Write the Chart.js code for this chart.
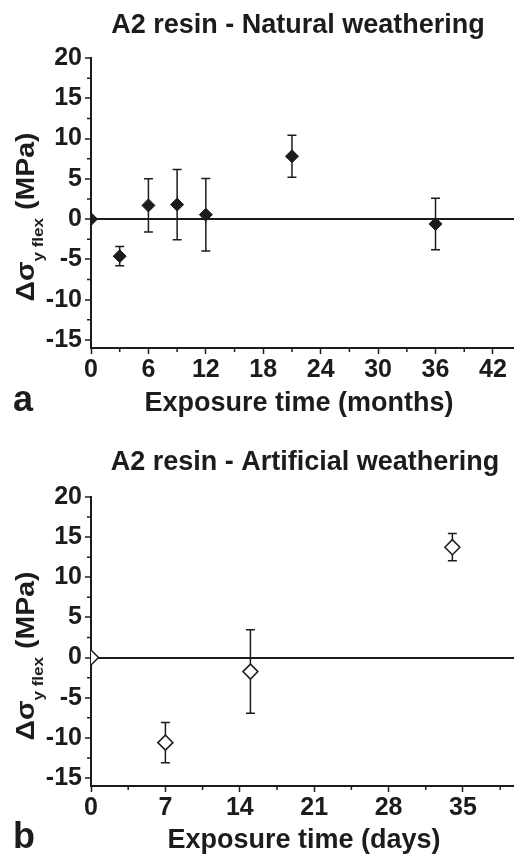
<!DOCTYPE html>
<html>
<head>
<meta charset="utf-8">
<script src="https://cdn.jsdelivr.net/npm/chart.js@4/dist/chart.umd.min.js"></script>
<style>
  body { margin: 0; background: #fff; }
  canvas { position: absolute; left: 0; }
</style>
</head>
<body>
<canvas id="chartA" width="514" height="420" style="top:0px"></canvas>
<canvas id="chartB" width="514" height="435" style="top:420px"></canvas>
<script>
// ---- panel a : natural weathering (months)
const monthsA = [0, 3, 6, 9, 12, 21, 36];
const deltaA  = [0, -4.6, 1.7, 1.8, 0.55, 7.8, -0.6];
const errA    = [0, 1.2, 3.3, 4.35, 4.5, 2.6, 3.2];
const xTicksA = [0, 6, 12, 18, 24, 30, 36, 42];
const xMinorA = [3, 9, 15, 21, 27, 33, 39];

// ---- panel b : artificial weathering (days)
const daysB   = [0, 7, 15, 34];
const deltaB  = [0, -10.6, -1.75, 13.75];
const errB    = [0, 2.5, 5.2, 1.7];
const xTicksB = [0, 7, 14, 21, 28, 35];
const xMinorB = [3.5, 10.5, 17.5, 24.5, 31.5, 38.5];

// ---- shared y axis
const yTicks = [-15, -10, -5, 0, 5, 10, 15, 20];
const yMinor = [-12.5, -7.5, -2.5, 2.5, 7.5, 12.5, 17.5];

const FONT = '"Liberation Sans", Arial, sans-serif';
const ink = '#1c1c1c';

//////// error bars, minor ticks and the panel texts
const decor = {
  id: 'decor',
  beforeDatasetsDraw(chart, args, o) {
    const ctx = chart.ctx, xs = chart.scales.x, ys = chart.scales.y;
    ctx.save();
    ctx.strokeStyle = ink;
    ctx.lineWidth = 1.5;
    chart.data.datasets[0].data.forEach((p, i) => {
      const e = o.err[i];
      if (!e) return;
      const px = xs.getPixelForValue(p.x);
      const t = ys.getPixelForValue(p.y + e);
      const b = ys.getPixelForValue(p.y - e);
      ctx.beginPath();
      ctx.moveTo(px, t); ctx.lineTo(px, b);
      ctx.moveTo(px - 4.5, t); ctx.lineTo(px + 4.5, t);
      ctx.moveTo(px - 4.5, b); ctx.lineTo(px + 4.5, b);
      ctx.stroke();
    });
    ctx.restore();
  },
  afterDraw(chart, args, o) {
    const ctx = chart.ctx, xs = chart.scales.x, ys = chart.scales.y;
    const area = chart.chartArea;
    ctx.save();
    ctx.strokeStyle = ink;
    ctx.lineWidth = 1.5;
    ctx.beginPath();
    o.minorX.forEach(v => {
      const px = xs.getPixelForValue(v);
      ctx.moveTo(px, area.bottom); ctx.lineTo(px, area.bottom + 4);
    });
    yMinor.forEach(v => {
      const py = ys.getPixelForValue(v);
      ctx.moveTo(area.left, py); ctx.lineTo(area.left - 4, py);
    });
    ctx.stroke();

    ctx.fillStyle = ink;
    ctx.textAlign = 'center';
    ctx.textBaseline = 'alphabetic';
    ctx.font = 'bold 27px ' + FONT;
    ctx.fillText(o.title, o.titleX, o.titleY);
    ctx.fillText(o.xTitle, o.xTitleX, o.xTitleY);
    ctx.textAlign = 'left';
    ctx.font = 'bold 36px ' + FONT;
    ctx.fillText(o.letter, 13, o.xTitleY);

    // rotated y title with subscript, stretched to the length seen in the figure
    ctx.translate(34, area.top + 159);
    ctx.rotate(-Math.PI / 2);
    const big = 'bold 25px ' + FONT, small = 'bold 15px ' + FONT;
    ctx.font = big;
    const w1 = ctx.measureText('\u0394\u03c3').width;
    const w3 = ctx.measureText(' (MPa)').width;
    ctx.font = small;
    const w2 = ctx.measureText('y flex').width;
    const total = w1 + w2 + w3;
    ctx.scale(169 / total, 1);
    let x0 = -total / 2;
    ctx.font = big;  ctx.fillText('\u0394\u03c3', x0, 0); x0 += w1;
    ctx.font = small; ctx.fillText('y flex', x0, 9); x0 += w2;
    ctx.font = big;  ctx.fillText(' (MPa)', x0, 0);
    ctx.restore();
  }
};

function makeChart(id, xs, ys, errs, xTicks, xMinor, xMax, filled, txt, pad, xH) {
  return new Chart(document.getElementById(id), {
    type: 'scatter',
    data: {
      datasets: [{
        data: xs.map((v, i) => ({ x: v, y: ys[i] })),
        pointStyle: 'rectRot',
        pointRadius: filled ? 6.5 : 7.5,
        pointHoverRadius: filled ? 6.5 : 7.5,
        backgroundColor: filled ? ink : '#fff',
        borderColor: ink,
        borderWidth: filled ? 1 : 1.5
      }]
    },
    options: {
      responsive: false,
      animation: false,
      events: [],
      layout: { autoPadding: false, padding: { top: pad, left: 0, right: 0, bottom: 0 } },
      plugins: {
        legend: { display: false },
        tooltip: { enabled: false },
        decor: Object.assign({ err: errs, minorX: xMinor }, txt)
      },
      scales: {
        x: {
          type: 'linear', min: 0, max: xMax,
          afterBuildTicks: s => { s.ticks = xTicks.map(v => ({ value: v })); },
          afterFit: s => { s.height = xH; s.paddingRight = 0; s.paddingLeft = 0; },
          border: { display: true, color: ink, width: 2 },
          grid: { drawOnChartArea: false, tickLength: 6, tickColor: ink, tickWidth: 1.5 },
          ticks: { color: ink, font: { family: FONT, size: 25, weight: 'bold' }, padding: 1, maxRotation: 0 }
        },
        y: {
          type: 'linear', min: -16, max: 20,
          afterBuildTicks: s => { s.ticks = yTicks.map(v => ({ value: v })); },
          afterFit: s => { s.width = 91; },
          border: { display: true, color: ink, width: 2 },
          grid: {
            color: c => (c.tick && c.tick.value === 0) ? ink : 'rgba(0,0,0,0)',
            lineWidth: 2,
            tickLength: 6, tickColor: ink, tickWidth: 1.5
          },
          ticks: { color: ink, font: { family: FONT, size: 25, weight: 'bold' }, padding: 3 }
        }
      }
    },
    plugins: [decor]
  });
}

makeChart('chartA', monthsA, deltaA, errA, xTicksA, xMinorA, 44.2, true, {
  title: 'A2 resin - Natural weathering', titleX: 298, titleY: 33,
  xTitle: 'Exposure time (months)', xTitleX: 299, xTitleY: 411, letter: 'a'
}, 58, 72);

makeChart('chartB', daysB, deltaB, errB, xTicksB, xMinorB, 39.8, false, {
  title: 'A2 resin - Artificial weathering', titleX: 305, titleY: 50,
  xTitle: 'Exposure time (days)', xTitleX: 304, xTitleY: 428, letter: 'b'
}, 77, 69);
</script>
</body>
</html>
